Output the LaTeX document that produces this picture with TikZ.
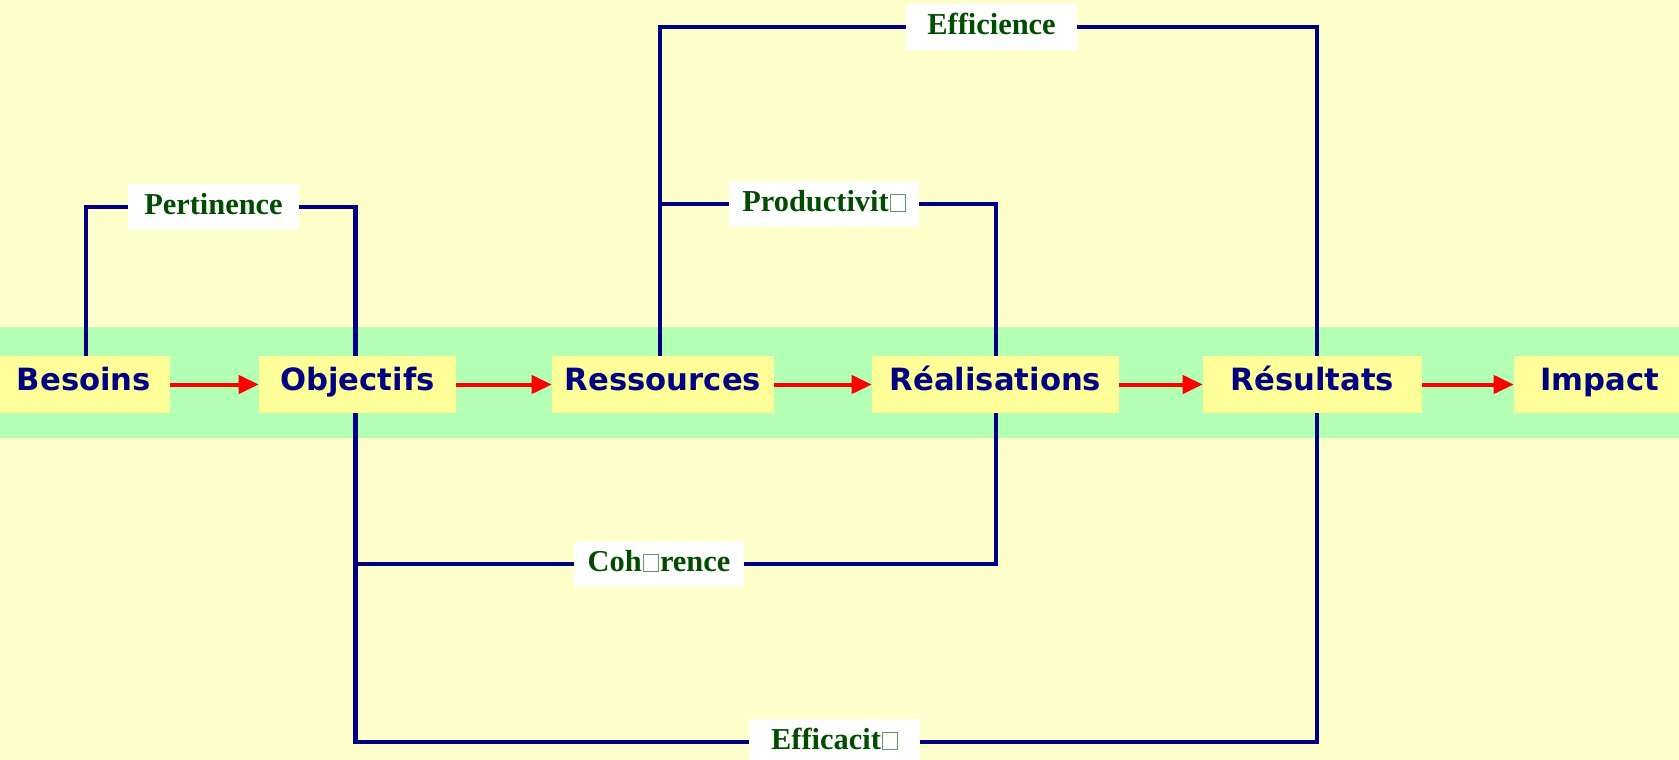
\documentclass[tikz,border=0pt]{standalone}
\usepackage{fontspec}
\setmainfont{Liberation Serif}
\newfontfamily\nodefont{DejaVu Sans}
\usetikzlibrary{arrows.meta}
\definecolor{bgyel}{RGB}{255,255,204}
\definecolor{bandgreen}{RGB}{179,255,179}
\definecolor{boxyel}{RGB}{255,255,153}
\definecolor{navy}{RGB}{0,0,128}
\definecolor{lblgreen}{RGB}{0,77,0}
\newcommand\nogl{\hspace{1pt}{\setlength\fboxsep{0pt}\setlength\fboxrule{0.6pt}\color{lblgreen!60}\fbox{\rule{0pt}{12.5pt}\hspace{10.5pt}}}\hspace{1pt}}
\begin{document}
\begin{tikzpicture}[x=0.75pt,y=-0.75pt,
 stage/.style={fill=boxyel, text=navy, inner sep=0pt, minimum height=42.75pt,
   font=\nodefont\bfseries\fontsize{23}{23}\selectfont, text height=16.7pt, text depth=7pt},
 crit/.style={fill=white, text=lblgreen, inner sep=0pt, minimum height=34.5pt,
   font=\bfseries\fontsize{22.8}{22.8}\selectfont, text height=15pt, text depth=4.5pt},
 conn/.style={draw=navy, line width=3.3pt, line join=miter},
 flow/.style={draw=red, line width=3pt, -{Triangle[length=15pt,width=13.5pt]}}]
\fill[bgyel] (0,0) rectangle (1679,760);
\useasboundingbox (0,0) rectangle (1679,760);
\fill[bandgreen] (0,327) rectangle (1679,438);

\node[stage, minimum width=129pt] (bes) at (84,384.5) {Besoins};
\node[stage, minimum width=147.75pt] (obj) at (357.5,384.5) {Objectifs};
\node[stage, minimum width=166.5pt] (ress) at (663,384.5) {Ressources};
\node[stage, minimum width=185.25pt] (real) at (995.5,384.5) {Réalisations};
\node[stage, minimum width=164.25pt] (resu) at (1312.5,384.5) {Résultats};
\node[stage, minimum width=129pt] (imp) at (1600,384.5) {Impact};

\coordinate (xb) at (86,0);
\coordinate (xo) at (355.5,0);
\coordinate (xr) at (660,0);
\coordinate (xl) at (996,0);
\coordinate (xs) at (1317,0);

\node[crit, minimum width=128.25pt] (eff) at (991.5,27) {Efficience};
\node[crit, minimum width=128.25pt] (per) at (213.5,207) {Pertinence};
\node[crit, minimum width=142.5pt] (pro) at (824,204) {Productivit\nogl};
\node[crit, minimum width=127.5pt] (coh) at (659,564) {Coh\nogl rence};
\node[crit, minimum width=128.25pt] (efc) at (834.5,742) {Efficacit\nogl};

\draw[conn] (bes.north -| xb) |- (per.west);
\draw[conn] (per.east) -| (obj.north -| xo);
\draw[conn] (ress.north -| xr) |- (eff.west);
\draw[conn] (eff.east) -| (resu.north -| xs);
\coordinate (tp) at (xr |- pro);
\draw[conn] (tp) -- (pro.west);
\draw[conn] (pro.east) -| (real.north -| xl);
\coordinate (tc) at (xo |- coh);
\draw[conn] (tc) -- (coh.west);
\draw[conn] (coh.east) -| (real.south -| xl);
\draw[conn] (obj.south -| xo) |- (efc.west);
\draw[conn] (efc.east) -| (resu.south -| xs);

\draw[flow] (bes) -- (obj);
\draw[flow] (obj) -- (ress);
\draw[flow] (ress) -- (real);
\draw[flow] (real) -- (resu);
\draw[flow] (resu) -- (imp);
\end{tikzpicture}
\end{document}
